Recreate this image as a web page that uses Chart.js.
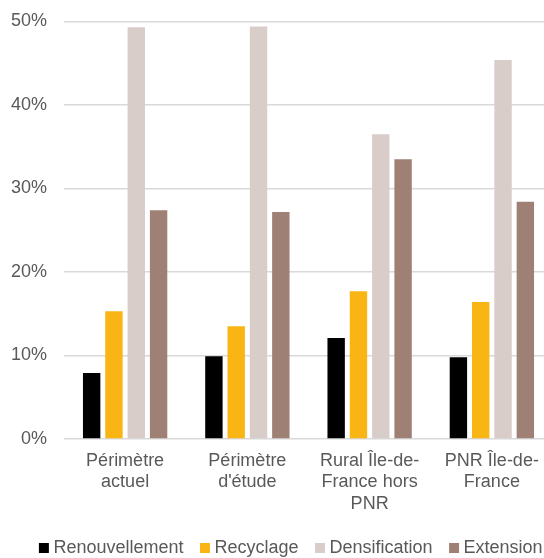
<!DOCTYPE html>
<html>
<head>
<meta charset="utf-8">
<script src="https://cdn.jsdelivr.net/npm/chart.js@4"></script>
<style>
  html, body { margin: 0; padding: 0; background: #ffffff; overflow: hidden; }
  #wrap { width: 586px; height: 567px; }
</style>
</head>
<body>
<div id="wrap"><canvas id="c" width="586" height="567"></canvas></div>
<script>
const categories = [
  ['Périmètre', 'actuel'],
  ['Périmètre', "d'étude"],
  ['Rural Île-de-', 'France hors', 'PNR'],
  ['PNR Île-de-', 'France']
];
const seriesNames = ['Renouvellement', 'Recyclage', 'Densification', 'Extension'];
const renouvellement = [7.9, 9.9, 12.1, 9.8];
const recyclage = [15.3, 13.5, 17.7, 16.4];
const densification = [49.3, 49.4, 36.5, 45.4];
const extension = [27.4, 27.2, 33.5, 28.4];
const seriesColors = ['#000000', '#F9B514', '#D8CDC9', '#9E8075'];
const yTicks = [0, 10, 20, 30, 40, 50];

const FONT = '"Liberation Sans", Arial, sans-serif';
const TEXT = '#595959';
const GRID = '#D9D9D9';

const values = [renouvellement, recyclage, densification, extension];

new Chart(document.getElementById('c'), {
  type: 'bar',
  data: {
    labels: categories,
    datasets: seriesNames.map((name, i) => ({
      label: name,
      data: values[i],
      backgroundColor: seriesColors[i],
      borderWidth: 0,
      categoryPercentage: 0.73,
      barPercentage: 0.78,
      pointStyle: 'rect'
    }))
  },
  options: {
    responsive: false,
    devicePixelRatio: 1,
    animation: false,
    layout: { padding: { top: 21.5, left: 0, right: 0, bottom: 0 } },
    plugins: {
      tooltip: { enabled: false },
      legend: {
        position: 'bottom',
        labels: {
          usePointStyle: true,
          pointStyle: 'rect',
          boxWidth: 1,
          boxHeight: 10,
          padding: 21,
          color: TEXT,
          font: { family: FONT, size: 18 }
        }
      }
    },
    scales: {
      x: {
        grid: { display: false, drawTicks: false },
        border: { display: false },
        ticks: {
          color: TEXT,
          font: { family: FONT, size: 18, lineHeight: 1.2 },
          padding: 11,
          maxRotation: 0,
          autoSkip: false
        },
        afterFit: (s) => { s.height = 79; }
      },
      y: {
        min: 0,
        max: 50,
        afterBuildTicks: (s) => { s.ticks = yTicks.map(v => ({ value: v })); },
        grid: { color: GRID, lineWidth: 1.5, drawTicks: false },
        border: { display: false },
        ticks: {
          color: TEXT,
          font: { family: FONT, size: 18, lineHeight: 0.5 },
          padding: 17,
          callback: (v) => v + '%'
        },
        afterFit: (s) => { s.width = 64; }
      },
      yR: {
        type: 'linear',
        position: 'right',
        display: true,
        grid: { display: false, drawTicks: false },
        border: { display: false },
        ticks: { display: false },
        afterFit: (s) => { s.width = 33; }
      }
    }
  }
});
</script>
</body>
</html>
